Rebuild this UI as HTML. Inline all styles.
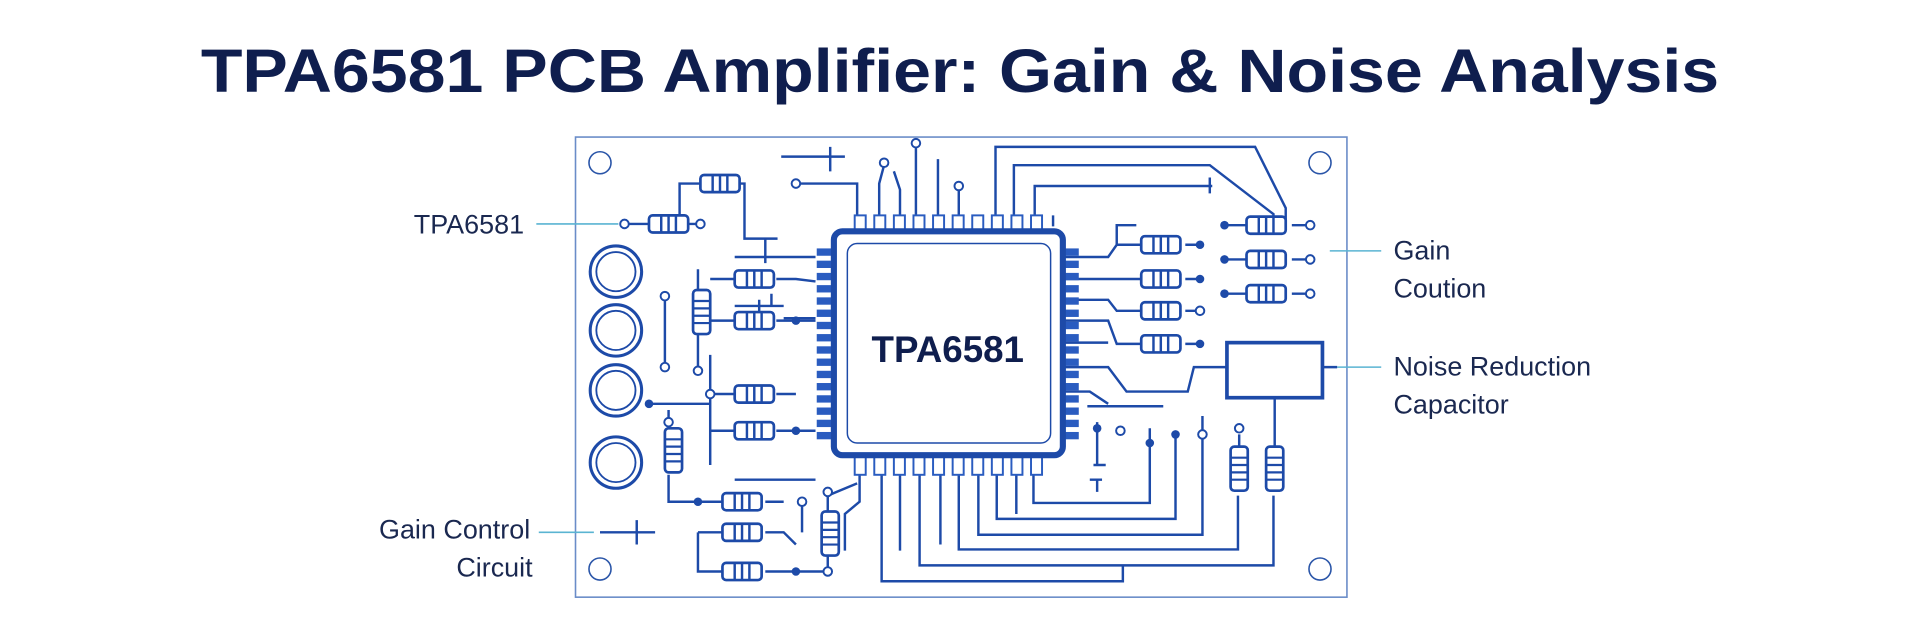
<!DOCTYPE html>
<html><head><meta charset="utf-8"><style>
html,body{margin:0;padding:0;background:#fff;}
svg{display:block;}
</style></head><body>
<svg width="1920" height="640" viewBox="0 0 1568 523" preserveAspectRatio="none" xmlns="http://www.w3.org/2000/svg">
<defs>
<g id="R"><rect x="0" y="-7" width="32" height="14" rx="3" fill="#fff" stroke="#1d4aa8" stroke-width="2.2"/><path d="M10-7V7M16-7V7M22-7V7" stroke="#1d4aa8" stroke-width="2"/></g>
<g id="V"><rect x="-7" y="0" width="14" height="36" rx="3" fill="#fff" stroke="#1d4aa8" stroke-width="2.2"/><path d="M-7 9H7M-7 15H7M-7 21H7M-7 27H7" stroke="#1d4aa8" stroke-width="1.8"/></g>
</defs>
<rect width="1568" height="523" fill="#fff"/>
<text x="784" y="75" text-anchor="middle" font-family="Liberation Sans, sans-serif" font-weight="bold" font-size="50" fill="#0f1e4e" textLength="1240" lengthAdjust="spacingAndGlyphs">TPA6581 PCB Amplifier: Gain &amp; Noise Analysis</text>

<rect x="470" y="112" width="630" height="376" fill="none" stroke="#6a8cc8" stroke-width="1.3"/>
<g fill="none" stroke="#2a55a8" stroke-width="1.3">
<circle cx="490" cy="133" r="9"/><circle cx="1078" cy="133" r="9"/><circle cx="490" cy="465" r="9"/><circle cx="1078" cy="465" r="9"/>
</g>

<!-- labels -->
<g font-family="Liberation Sans, sans-serif" font-size="22" fill="#1a2850">
<text x="428" y="191" text-anchor="end">TPA6581</text>
<text x="1138" y="212">Gain</text>
<text x="1138" y="243">Coution</text>
<text x="1138" y="307">Noise Reduction</text>
<text x="1138" y="338">Capacitor</text>
<text x="433" y="440" text-anchor="end">Gain Control</text>
<text x="435" y="471" text-anchor="end">Circuit</text>
</g>
<g stroke="#5ab4d2" stroke-width="1.3">
<path d="M438 183H505M1086 205H1128M1092 300H1128M440 435H485"/>
</g>

<!-- traces -->
<g fill="none" stroke="#1d4aa8" stroke-width="2">
<!-- bottom -->
<path d="M720 388V475H917V462M735 388V450M751 388V462H1040V405M768 388V445M783 388V449H1011V405M799 388V437H982V340M814 388V424H960V355M830 388V420M844 388V411H939V350"/>
<path d="M702 388V410L690 420V450"/>
<!-- top -->
<path d="M813 176V120H1025L1050 170V184M828 176V135H988L1040 175V184M845 176V152H990M860 176V185M988 145V158"/>
<path d="M700 176V150H650M718 176V150L722 135M735 176V155L730 140M748 176V120M766 176V130M783 176V155"/>
<path d="M638 128H690M678 120V140"/>
<!-- left -->
<path d="M510 183H530M562 183H572M555 183V150H572M604 150H608V195H635M625 195V215M600 210H666"/>
<path d="M580 228H600M634 228H650L666 230M600 250H640M630 250V240M620 245V265M640 260H666"/>
<path d="M580 290V380M580 322H600M634 322H650M530 330H580M580 352H600M634 352H666M580 262H600M634 262H666"/>
<path d="M570 220V240M570 270V300M543 242V300"/>
<path d="M546 388V410H590M625 410H640M546 350V335M600 392H666M655 410V435M625 435H640L650 445M490 435H535M520 425V445M570 435H590M570 435V467H590M625 467H676M676 452V465M676 418V405L700 395"/>
<!-- right -->
<path d="M868 210H905L912 200H932M912 200V184H928M868 228H932M868 245H905L912 254H932M868 262H905L912 281H932M868 280H905M868 300H905L920 320H970L975 300H1002M868 320H890L905 330M1080 300H1092"/>
<path d="M968 200H980M968 228H980M968 254H980M968 281H980M1000 184H1018M1055 184H1070M1000 212H1018M1055 212H1070M1000 240H1018M1055 240H1070M1041 325V365M1012 355V365"/>
<path d="M896 345V380M893 380H903M890 392H900M896 392V402M888 332H950"/>
</g>

<!-- resistors -->
<use href="#R" x="530" y="183"/><use href="#R" x="572" y="150"/>
<use href="#R" x="600" y="228"/><use href="#R" x="600" y="262"/><use href="#R" x="600" y="322"/><use href="#R" x="600" y="352"/>
<use href="#R" x="590" y="410"/><use href="#R" x="590" y="435"/><use href="#R" x="590" y="467"/>
<use href="#R" x="932" y="200"/><use href="#R" x="932" y="228"/><use href="#R" x="932" y="254"/><use href="#R" x="932" y="281"/>
<use href="#R" x="1018" y="184"/><use href="#R" x="1018" y="212"/><use href="#R" x="1018" y="240"/>
<use href="#V" x="550" y="350"/><use href="#V" x="678" y="418"/><use href="#V" x="1012" y="365"/><use href="#V" x="1041" y="365"/><use href="#V" x="573" y="237"/>

<!-- dots -->
<g fill="#1d4aa8">
<circle cx="980" cy="200" r="3.5"/><circle cx="980" cy="228" r="3.5"/><circle cx="980" cy="281" r="3.5"/>
<circle cx="1000" cy="184" r="3.5"/><circle cx="1000" cy="212" r="3.5"/><circle cx="1000" cy="240" r="3.5"/>
<circle cx="530" cy="330" r="3.5"/><circle cx="650" cy="352" r="3.5"/><circle cx="650" cy="262" r="3.5"/>
<circle cx="570" cy="410" r="3.5"/><circle cx="650" cy="467" r="3.5"/><circle cx="896" cy="350" r="3.5"/><circle cx="960" cy="355" r="3.5"/><circle cx="939" cy="362" r="3.5"/>
</g>
<g fill="#fff" stroke="#1d4aa8" stroke-width="1.6">
<circle cx="510" cy="183" r="3.5"/><circle cx="572" cy="183" r="3.5"/><circle cx="650" cy="150" r="3.5"/>
<circle cx="1070" cy="184" r="3.5"/><circle cx="1070" cy="212" r="3.5"/><circle cx="1070" cy="240" r="3.5"/>
<circle cx="980" cy="254" r="3.5"/><circle cx="722" cy="133" r="3.5"/><circle cx="748" cy="117" r="3.5"/><circle cx="783" cy="152" r="3.5"/>
<circle cx="543" cy="242" r="3.5"/><circle cx="543" cy="300" r="3.5"/><circle cx="570" cy="303" r="3.5"/><circle cx="580" cy="322" r="3.5"/>
<circle cx="546" cy="345" r="3.5"/><circle cx="676" cy="402" r="3.5"/><circle cx="676" cy="467" r="3.5"/><circle cx="655" cy="410" r="3.5"/>
<circle cx="915" cy="352" r="3.5"/><circle cx="1012" cy="350" r="3.5"/><circle cx="982" cy="355" r="3.5"/>
</g>

<!-- big circles -->
<g fill="none" stroke="#1d4aa8">
<circle cx="503" cy="222" r="21" stroke-width="2.5"/><circle cx="503" cy="222" r="16" stroke-width="1.5"/>
<circle cx="503" cy="270" r="21" stroke-width="2.5"/><circle cx="503" cy="270" r="16" stroke-width="1.5"/>
<circle cx="503" cy="319" r="21" stroke-width="2.5"/><circle cx="503" cy="319" r="16" stroke-width="1.5"/>
<circle cx="503" cy="378" r="21" stroke-width="2.5"/><circle cx="503" cy="378" r="16" stroke-width="1.5"/>
</g>

<!-- noise cap box -->
<rect x="1002" y="280" width="78" height="45" fill="#fff" stroke="#1d4aa8" stroke-width="3"/>

<!-- chip pins -->
<g fill="#fff" stroke="#2a5cc0" stroke-width="1.6">
<rect x="698" y="176" width="9" height="14"/><rect x="714" y="176" width="9" height="14"/><rect x="730" y="176" width="9" height="14"/><rect x="746" y="176" width="9" height="14"/><rect x="762" y="176" width="9" height="14"/><rect x="778" y="176" width="9" height="14"/><rect x="794" y="176" width="9" height="14"/><rect x="810" y="176" width="9" height="14"/><rect x="826" y="176" width="9" height="14"/><rect x="842" y="176" width="9" height="14"/>
<rect x="698" y="372" width="9" height="16"/><rect x="714" y="372" width="9" height="16"/><rect x="730" y="372" width="9" height="16"/><rect x="746" y="372" width="9" height="16"/><rect x="762" y="372" width="9" height="16"/><rect x="778" y="372" width="9" height="16"/><rect x="794" y="372" width="9" height="16"/><rect x="810" y="372" width="9" height="16"/><rect x="826" y="372" width="9" height="16"/><rect x="842" y="372" width="9" height="16"/>
</g>
<g fill="#2a5cc0">
<rect x="667" y="203" width="15" height="6"/><rect x="667" y="213" width="15" height="6"/><rect x="667" y="223" width="15" height="6"/><rect x="667" y="233" width="15" height="6"/><rect x="667" y="243" width="15" height="6"/><rect x="667" y="253" width="15" height="6"/><rect x="667" y="263" width="15" height="6"/><rect x="667" y="273" width="15" height="6"/><rect x="667" y="283" width="15" height="6"/><rect x="667" y="293" width="15" height="6"/><rect x="667" y="303" width="15" height="6"/><rect x="667" y="313" width="15" height="6"/><rect x="667" y="323" width="15" height="6"/><rect x="667" y="333" width="15" height="6"/><rect x="667" y="343" width="15" height="6"/><rect x="667" y="353" width="15" height="6"/>
<rect x="866" y="203" width="15" height="6"/><rect x="866" y="213" width="15" height="6"/><rect x="866" y="223" width="15" height="6"/><rect x="866" y="233" width="15" height="6"/><rect x="866" y="243" width="15" height="6"/><rect x="866" y="253" width="15" height="6"/><rect x="866" y="263" width="15" height="6"/><rect x="866" y="273" width="15" height="6"/><rect x="866" y="283" width="15" height="6"/><rect x="866" y="293" width="15" height="6"/><rect x="866" y="303" width="15" height="6"/><rect x="866" y="313" width="15" height="6"/><rect x="866" y="323" width="15" height="6"/><rect x="866" y="333" width="15" height="6"/><rect x="866" y="343" width="15" height="6"/><rect x="866" y="353" width="15" height="6"/>
</g>
<!-- chip body -->
<rect x="681" y="189" width="187" height="183" rx="7" fill="#fff" stroke="#1d4aa8" stroke-width="5"/>
<rect x="692" y="199" width="166" height="163" rx="8" fill="#fff" stroke="#1d4aa8" stroke-width="1.2"/>
<text x="774" y="296" text-anchor="middle" font-family="Liberation Sans, sans-serif" font-weight="bold" font-size="30" fill="#0f1e4e">TPA6581</text>
</svg>
</body></html>
